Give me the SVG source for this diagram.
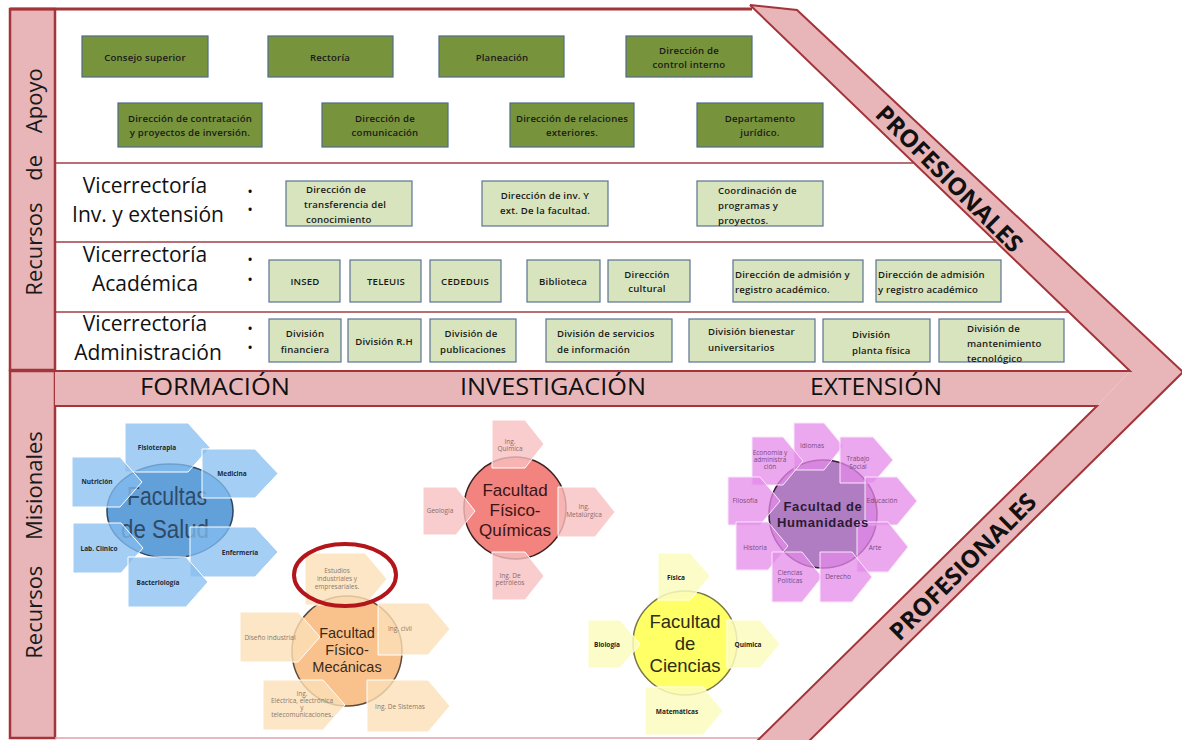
<svg xmlns="http://www.w3.org/2000/svg" width="1182" height="740" viewBox="0 0 1182 740">
<style>
  .pink{fill:#e8b6b9}
  .edge{fill:none;stroke:#a3343a;stroke-width:2}
  .sep{stroke:#9e4146;stroke-width:1.5}
  .dg rect{fill:#77933c;stroke:#4f6b8c;stroke-width:1.2}
  .lg rect{fill:#d7e4bd;stroke:#5b7393;stroke-width:1.2}
  text{font-family:"Open Sans","Liberation Sans",sans-serif;dominant-baseline:central}
  .bt{font-size:9.6px;font-weight:600;fill:#1a1a1a;text-anchor:middle;letter-spacing:0.2px}
  .bt.l{text-anchor:start}
  .vr{font-size:21px;fill:#111;text-anchor:middle}
  .dot{font-size:15px;fill:#111;text-anchor:middle}
  .side{font-size:22px;fill:#1a1a1a;text-anchor:middle}
  .hd{font-size:23px;fill:#111;text-anchor:middle}
  .prof{font-size:24px;font-weight:bold;fill:#111;text-anchor:middle}
  .sm{font-size:6.5px;text-anchor:middle}
  .fac{text-anchor:middle;font-family:"Liberation Sans","Open Sans",sans-serif}
  .blue .arr{fill:#86bdf0;fill-opacity:.75;stroke:#fff;stroke-width:1}
  .blue .sm{fill:#1c2a38;font-weight:bold}
  .orange .arr{fill:#fde0b8;fill-opacity:.8;stroke:#fff;stroke-width:1}
  .orange .sm{fill:#8a7a6a}
  .red .arr{fill:#f8c0c0;fill-opacity:.8;stroke:#fff;stroke-width:1}
  .red .sm{fill:#8a6a6a}
  .yellow .arr{fill:#fbfbc0;fill-opacity:.85;stroke:#fff;stroke-width:1}
  .yellow .sm{fill:#222;font-weight:bold}
  .purple .arr{fill:#e48be9;fill-opacity:.75;stroke:#fbe6fb;stroke-width:1}
  .purple .sm{fill:#7a4a7a}
</style>

<rect x="0" y="0" width="1182" height="740" fill="#fff"/>

<!-- frame: side strips, bands and the chevron -->
<g id="frame">
  <rect class="pink" x="10" y="9" width="45" height="361" stroke="#a3343a" stroke-width="2.5"/>
  <rect class="pink" x="10" y="371" width="45" height="367" stroke="#a3343a" stroke-width="2.5"/>
  <line x1="10" y1="9" x2="752" y2="9" stroke="#a3343a" stroke-width="3"/>
  <line x1="55" y1="738" x2="760" y2="738" stroke="#dca3a7" stroke-width="1.5"/>
  <line class="sep" x1="55" y1="163" x2="913" y2="163"/>
  <line class="sep" x1="55" y1="242" x2="995" y2="242"/>
  <line class="sep" x1="55" y1="312" x2="1068" y2="312"/>
  <!-- horizontal band -->
  <polygon class="pink" points="55,371 1130,371 1097,406 55,406"/>
  <!-- chevron -->
  <polygon class="pink" points="750,5 797,10 1183,372 809,741 757,741 1097,406 1130,371"/>
  <polyline class="edge" points="750,5 797,10 1183,372 809,741"/>
  <polyline class="edge" points="750,5 1130,371 55,371"/>
  <polyline class="edge" points="55,406 1097,406 757,741"/>
  <text class="side" transform="translate(33,182) rotate(-90)" word-spacing="16">Recursos de Apoyo</text>
  <text class="side" transform="translate(33,545) rotate(-90)" word-spacing="20">Recursos Misionales</text>
  <text class="hd" x="215" y="386" textLength="150" lengthAdjust="spacingAndGlyphs">FORMACIÓN</text>
  <text class="hd" x="553" y="386" textLength="186" lengthAdjust="spacingAndGlyphs">INVESTIGACIÓN</text>
  <text class="hd" x="876" y="386" textLength="132" lengthAdjust="spacingAndGlyphs">EXTENSIÓN</text>
  <text class="prof" transform="translate(950,178) rotate(45)" textLength="196" lengthAdjust="spacingAndGlyphs">PROFESIONALES</text>
  <text class="prof" transform="translate(962,566) rotate(-45)" textLength="196" lengthAdjust="spacingAndGlyphs">PROFESIONALES</text>
</g>

<!-- direction boxes -->
<g id="direccion" class="dg">
  <g id="consejo"><rect x="82" y="36" width="126" height="41"/><text class="bt" x="145" y="57">Consejo superior</text></g>
  <g id="rectoria"><rect x="268" y="36" width="125" height="41"/><text class="bt" x="330" y="57">Rectoría</text></g>
  <g id="planeacion"><rect x="439" y="36" width="125" height="41"/><text class="bt" x="502" y="57">Planeación</text></g>
  <g id="control"><rect x="626" y="36" width="126" height="41"/><text class="bt" x="689" y="50">Dirección de</text><text class="bt" x="689" y="64">control interno</text></g>
  <g id="contratacion"><rect x="118" y="103" width="144" height="44"/><text class="bt" x="190" y="118">Dirección de contratación</text><text class="bt" x="190" y="132">y proyectos de inversión.</text></g>
  <g id="comunicacion"><rect x="322" y="103" width="126" height="44"/><text class="bt" x="385" y="118">Dirección de</text><text class="bt" x="385" y="132">comunicación</text></g>
  <g id="relaciones"><rect x="510" y="103" width="124" height="44"/><text class="bt" x="572" y="118">Dirección de relaciones</text><text class="bt" x="572" y="132">exteriores.</text></g>
  <g id="juridico"><rect x="697" y="103" width="126" height="44"/><text class="bt" x="760" y="118">Departamento</text><text class="bt" x="760" y="132">jurídico.</text></g>
</g>

<!-- vicerrectorías -->
<g id="vicerrectorias">
  <text class="vr" x="145" y="185">Vicerrectoría</text><text class="vr" x="148" y="214">Inv. y extensión</text>
  <text class="vr" x="145" y="254">Vicerrectoría</text><text class="vr" x="145" y="283">Académica</text>
  <text class="vr" x="145" y="323">Vicerrectoría</text><text class="vr" x="148" y="352">Administración</text>
  <text class="dot" x="250" y="191">•</text><text class="dot" x="250" y="209">•</text>
  <text class="dot" x="250" y="259">•</text><text class="dot" x="250" y="279">•</text>
  <text class="dot" x="250" y="328">•</text><text class="dot" x="250" y="347">•</text>
</g>

<g id="inv-extension" class="lg">
  <g id="transferencia"><rect x="286" y="181" width="126" height="45"/><text class="bt l" x="306" y="189">Dirección de</text><text class="bt l" x="304" y="204">transferencia del</text><text class="bt l" x="306" y="219">conocimiento</text></g>
  <g id="inv-facultad"><rect x="482" y="181" width="126" height="45"/><text class="bt" x="545" y="195">Dirección de inv. Y</text><text class="bt" x="545" y="210">ext. De la facultad.</text></g>
  <g id="coordinacion"><rect x="697" y="181" width="126" height="45"/><text class="bt l" x="718" y="190">Coordinación de</text><text class="bt l" x="718" y="205">programas y</text><text class="bt l" x="718" y="220">proyectos.</text></g>
</g>

<g id="academica" class="lg">
  <g id="insed"><rect x="269" y="260" width="71" height="42"/><text class="bt" x="305" y="281">INSED</text></g>
  <g id="teleuis"><rect x="350" y="260" width="71" height="42"/><text class="bt" x="386" y="281">TELEUIS</text></g>
  <g id="cededuis"><rect x="430" y="260" width="71" height="42"/><text class="bt" x="465" y="281">CEDEDUIS</text></g>
  <g id="biblioteca"><rect x="527" y="260" width="73" height="42"/><text class="bt" x="563" y="281">Biblioteca</text></g>
  <g id="cultural"><rect x="608" y="260" width="82" height="42"/><text class="bt" x="647" y="274">Dirección</text><text class="bt" x="647" y="288">cultural</text></g>
  <g id="admision-1"><rect x="733" y="260" width="130" height="42"/><text class="bt l" x="735" y="274">Dirección de admisión y</text><text class="bt l" x="735" y="289">registro académico.</text></g>
  <g id="admision-2"><rect x="876" y="260" width="125" height="42"/><text class="bt l" x="878" y="274">Dirección de admisión</text><text class="bt l" x="878" y="289">y registro académico</text></g>
</g>

<g id="administracion" class="lg">
  <g id="financiera"><rect x="269" y="319" width="72" height="43"/><text class="bt" x="305" y="333">División</text><text class="bt" x="305" y="349">financiera</text></g>
  <g id="rh"><rect x="348" y="319" width="73" height="43"/><text class="bt" x="384" y="341">División R.H</text></g>
  <g id="publicaciones"><rect x="430" y="319" width="86" height="43"/><text class="bt" x="471" y="333">División de</text><text class="bt" x="473" y="349">publicaciones</text></g>
  <g id="servicios"><rect x="546" y="319" width="126" height="43"/><text class="bt l" x="557" y="333">División de servicios</text><text class="bt l" x="557" y="349">de información</text></g>
  <g id="bienestar"><rect x="689" y="319" width="126" height="43"/><text class="bt l" x="708" y="331">División bienestar</text><text class="bt l" x="708" y="347">universitarios</text></g>
  <g id="planta"><rect x="823" y="319" width="107" height="43"/><text class="bt l" x="852" y="334">División</text><text class="bt l" x="852" y="350">planta física</text></g>
  <g id="mantenimiento"><rect x="939" y="319" width="125" height="43"/><text class="bt l" x="967" y="328">División de</text><text class="bt l" x="967" y="343">mantenimiento</text><text class="bt l" x="967" y="358">tecnológico</text></g>
</g>

<!-- Facultad de Salud -->
<g id="salud" class="blue">
  <ellipse cx="170" cy="511" rx="63" ry="47" fill="#62a0da" stroke="#2c4560" stroke-width="1.5"/>
  <text class="fac" x="167" y="496" font-size="25" fill="#2e4a66" textLength="80" lengthAdjust="spacingAndGlyphs">Facultas</text>
  <text class="fac" x="165" y="529" font-size="25" fill="#2e4a66" textLength="88" lengthAdjust="spacingAndGlyphs">de Salud</text>
  <polygon class="arr" points="125,423 188,423 210,447.5 188,472 125,472"/>
  <polygon class="arr" points="202,449 255,449 278,473.5 255,498 202,498"/>
  <polygon class="arr" points="72,457 120,457 142,482 120,507 72,507"/>
  <polygon class="arr" points="73,523 121,523 143,548 121,573 73,573"/>
  <polygon class="arr" points="190,527 255,527 278,552 255,577 190,577"/>
  <polygon class="arr" points="128,557 186,557 208,582 186,607 128,607"/>
  <text class="sm" x="157" y="447">Fisioterapia</text>
  <text class="sm" x="232" y="473">Medicina</text>
  <text class="sm" x="97" y="481">Nutrición</text>
  <text class="sm" x="99" y="548">Lab. Clínico</text>
  <text class="sm" x="240" y="552">Enfermería</text>
  <text class="sm" x="158" y="582">Bacteriología</text>
</g>

<!-- Facultad Físico-Mecánicas -->
<g id="fisico-mecanicas" class="orange">
  <circle cx="347" cy="651" r="55" fill="#f9c28c" stroke="#5b4a3a" stroke-width="1.5"/>
  <polygon class="arr" points="305,553 365,553 387,579 365,605 305,605"/>
  <polygon class="arr" points="240,612 298,612 320,637 298,662 240,662"/>
  <polygon class="arr" points="378,603 428,603 450,629 428,655 378,655"/>
  <polygon class="arr" points="263,680 323,680 345,705 323,730 263,730"/>
  <polygon class="arr" points="367,680 428,680 450,706 428,732 367,732"/>
  <text class="fac" x="347" y="633" font-size="14.5" fill="#3a2a1a">Facultad</text>
  <text class="fac" x="347" y="650" font-size="14.5" fill="#3a2a1a">Físico-</text>
  <text class="fac" x="347" y="667" font-size="14.5" fill="#3a2a1a">Mecánicas</text>
  <text class="sm" x="337" y="570">Estudios</text>
  <text class="sm" x="337" y="578">industriales y</text>
  <text class="sm" x="337" y="586">empresariales.</text>
  <text class="sm" x="270" y="637">Diseño industrial</text>
  <text class="sm" x="400" y="628">Ing. civil</text>
  <text class="sm" x="302" y="693">Ing.</text>
  <text class="sm" x="302" y="700">Eléctrica, electrónica</text>
  <text class="sm" x="302" y="707">y</text>
  <text class="sm" x="302" y="714">telecomunicaciones.</text>
  <text class="sm" x="400" y="706">Ing. De Sistemas</text>
  <ellipse cx="345" cy="575" rx="51" ry="31" fill="none" stroke="#b3151a" stroke-width="4"/>
</g>

<!-- Facultad Físico-Químicas -->
<g id="fisico-quimicas" class="red">
  <circle cx="515" cy="508" r="51" fill="#f2837f" stroke="#3b1f1f" stroke-width="1.5"/>
  <polygon class="arr" points="492,420 525,420 544,444 525,468 492,468"/>
  <polygon class="arr" points="423,487 456,487 475,511 456,535 423,535"/>
  <polygon class="arr" points="558,487 595,487 615,512 595,537 558,537"/>
  <polygon class="arr" points="492,552 525,552 544,576 525,600 492,600"/>
  <text class="fac" x="515" y="490" font-size="17" fill="#3a1515">Facultad</text>
  <text class="fac" x="515" y="510" font-size="17" fill="#3a1515">Físico-</text>
  <text class="fac" x="515" y="530" font-size="17" fill="#3a1515">Químicas</text>
  <text class="sm" x="510" y="441">Ing.</text>
  <text class="sm" x="510" y="448">Química</text>
  <text class="sm" x="440" y="510">Geología</text>
  <text class="sm" x="584" y="506">Ing.</text>
  <text class="sm" x="584" y="514">Metalúrgica</text>
  <text class="sm" x="510" y="575">Ing. De</text>
  <text class="sm" x="510" y="582">petróleos</text>
</g>

<!-- Facultad de Ciencias -->
<g id="ciencias" class="yellow">
  <circle cx="685" cy="643" r="52" fill="#ffff66" stroke="#77774a" stroke-width="1.5"/>
  <polygon class="arr" points="658,553 690,553 710,576 690,600 658,600"/>
  <polygon class="arr" points="588,620 620,620 640,644 620,668 588,668"/>
  <polygon class="arr" points="727,620 760,620 780,644 760,668 727,668"/>
  <polygon class="arr" points="645,687 703,687 723,711 703,735 645,735"/>
  <text class="fac" x="685" y="621" font-size="18.5" fill="#2d2d1a">Facultad</text>
  <text class="fac" x="685" y="643" font-size="18.5" fill="#2d2d1a">de</text>
  <text class="fac" x="685" y="665" font-size="18.5" fill="#2d2d1a">Ciencias</text>
  <text class="sm" x="676" y="577">Física</text>
  <text class="sm" x="607" y="644">Biología</text>
  <text class="sm" x="748" y="644">Química</text>
  <text class="sm" x="677" y="711">Matemáticas</text>
</g>

<!-- Facultad de Humanidades -->
<g id="humanidades" class="purple">
  <circle cx="823" cy="514" r="54" fill="#b07cc2" stroke="#3a1a3a" stroke-width="1.5"/>
  <polygon class="arr" points="794,423 824,423 843,446 824,470 794,470"/>
  <polygon class="arr" points="840,437 873,437 893,460 873,483 840,483"/>
  <polygon class="arr" points="752,437 783,437 803,461 783,485 752,485"/>
  <polygon class="arr" points="865,477 897,477 917,501 897,525 865,525"/>
  <polygon class="arr" points="728,477 760,477 780,501 760,525 728,525"/>
  <polygon class="arr" points="857,522 888,522 908,547 888,572 857,572"/>
  <polygon class="arr" points="736,522 768,522 788,546 768,570 736,570"/>
  <polygon class="arr" points="772,552 802,552 822,577 802,602 772,602"/>
  <polygon class="arr" points="820,552 852,552 872,577 852,602 820,602"/>
  <text class="fac" x="823" y="506" font-size="13" font-weight="bold" fill="#2b1a35" letter-spacing="0.6">Facultad de</text>
  <text class="fac" x="823" y="522" font-size="13" font-weight="bold" fill="#2b1a35" letter-spacing="0.6">Humanidades</text>
  <text class="sm" x="812" y="445">Idiomas</text>
  <text class="sm" x="858" y="458">Trabajo</text>
  <text class="sm" x="858" y="466">Social</text>
  <text class="sm" x="770" y="452">Economía y</text>
  <text class="sm" x="770" y="459">administra</text>
  <text class="sm" x="770" y="466">ción</text>
  <text class="sm" x="882" y="500">Educación</text>
  <text class="sm" x="745" y="500">Filosofía</text>
  <text class="sm" x="875" y="547">Arte</text>
  <text class="sm" x="755" y="547">Historia</text>
  <text class="sm" x="790" y="572">Ciencias</text>
  <text class="sm" x="790" y="580">Políticas</text>
  <text class="sm" x="838" y="576">Derecho</text>
</g>
</svg>
